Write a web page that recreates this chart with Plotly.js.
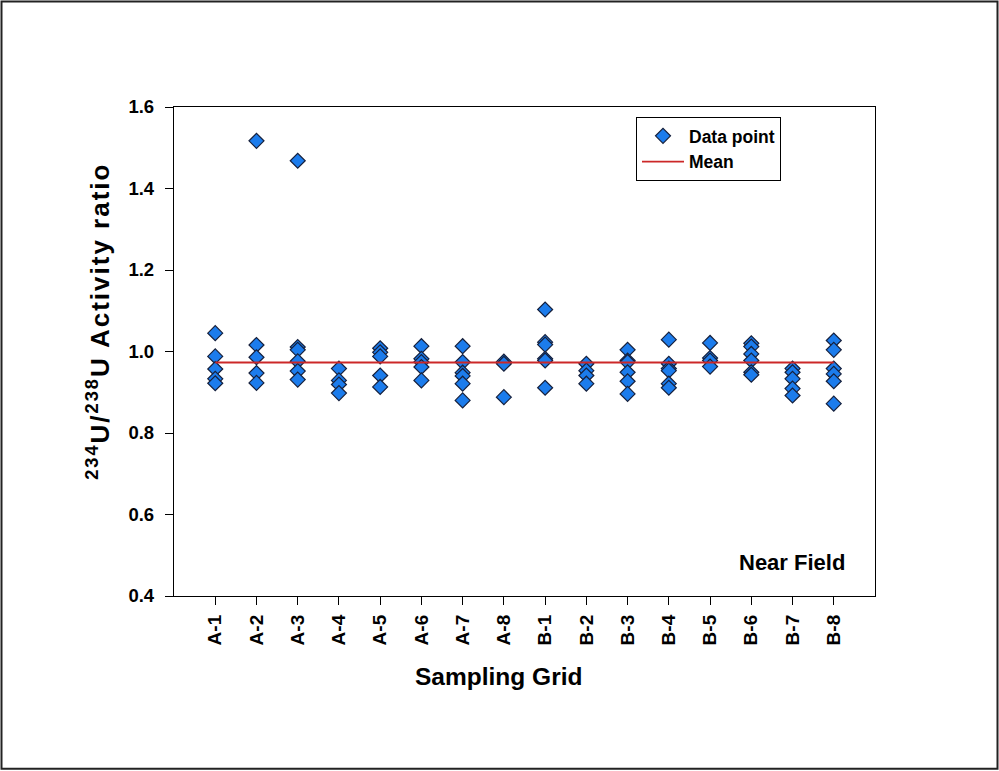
<!DOCTYPE html>
<html>
<head>
<meta charset="utf-8">
<script src="https://cdn.plot.ly/plotly-3.0.1.min.js"></script>
<style>
html,body{margin:0;padding:0;background:#fff;}
#chart{width:999px;height:771px;}
</style>
</head>
<body>
<div id="chart"></div>
<script>
const categories = ["A-1","A-2","A-3","A-4","A-5","A-6","A-7","A-8","B-1","B-2","B-3","B-4","B-5","B-6","B-7","B-8"];
const A1 = [1.045, 0.988, 0.957, 0.933, 0.922];
const A2 = [1.517, 1.016, 0.986, 0.947, 0.923];
const A3 = [1.468, 1.011, 1.004, 0.976, 0.952, 0.931];
const A4 = [0.958, 0.929, 0.919, 0.898];
const A5 = [1.008, 0.998, 0.988, 0.941, 0.913];
const A6 = [1.013, 0.982, 0.974, 0.962, 0.929];
const A7 = [1.013, 0.974, 0.948, 0.940, 0.921, 0.880];
const A8 = [0.975, 0.970, 0.888];
const B1 = [1.103, 1.023, 1.017, 0.982, 0.978, 0.911];
const B2 = [0.970, 0.953, 0.941, 0.921];
const B3 = [1.004, 0.978, 0.974, 0.949, 0.927, 0.896];
const B4 = [1.029, 0.970, 0.958, 0.953, 0.921, 0.911];
const B5 = [1.021, 0.984, 0.978, 0.963];
const B6 = [1.020, 1.012, 0.994, 0.978, 0.949, 0.943];
const B7 = [0.958, 0.949, 0.933, 0.909, 0.892];
const B8 = [1.027, 1.004, 0.958, 0.945, 0.927, 0.872];
const groups = [A1,A2,A3,A4,A5,A6,A7,A8,B1,B2,B3,B4,B5,B6,B7,B8];
const meanValue = 0.973;
const yTicks = [0.4, 0.6, 0.8, 1.0, 1.2, 1.4, 1.6];

const xs = [], ys = [];
groups.forEach((g, i) => g.forEach(v => { xs.push(categories[i]); ys.push(v); }));

const F = 'Liberation Sans, Arial, sans-serif';
const traces = [
  {
    type: 'scatter', mode: 'markers', name: 'Data point',
    x: xs, y: ys,
    marker: {symbol: 'diamond', size: 11.5, color: 'rgb(28,124,236)', line: {color: 'rgb(22,32,60)', width: 1.2}}
  },
  {
    type: 'scatter', mode: 'lines', name: 'Mean',
    x: [categories[0], categories[categories.length-1]],
    y: [meanValue, meanValue],
    line: {color: 'rgb(204,40,40)', width: 1.8}
  }
];

const L = 174, R = 875, T = 107, B = 596.5;
const px = p => (p - L) / (R - L);
const py = p => (B - p) / (B - T);

const layout = {
  width: 999, height: 771,
  margin: {l: L, r: 999 - R, t: T, b: 771 - B},
  paper_bgcolor: '#fff', plot_bgcolor: '#fff',
  font: {family: F, color: '#000'},
  showlegend: true,
  legend: {
    x: px(636), y: py(117), xanchor: 'left', yanchor: 'top',
    bordercolor: '#000', borderwidth: 1, bgcolor: '#fff',
    font: {family: F, size: 17.5, weight: 'bold', color: '#000'},
    tracegroupgap: 0, itemwidth: 42
  },
  xaxis: {
    type: 'category', categoryorder: 'array', categoryarray: categories,
    range: [-1, 16],
    showline: true, mirror: true, linecolor: '#000', linewidth: 1.2,
    ticks: 'outside', ticklen: 8, tickcolor: '#000', ticklabelstandoff: 2,
    tickangle: -90, showgrid: false, zeroline: false,
    tickfont: {family: F, size: 19, weight: 'bold'}
  },
  yaxis: {
    range: [0.4, 1.6], tickvals: yTicks, ticktext: yTicks.map(v => v.toFixed(1)),
    showline: true, mirror: true, linecolor: '#000', linewidth: 1.2,
    ticks: 'outside', ticklen: 8, tickcolor: '#000', ticklabelstandoff: 7,
    showgrid: false, zeroline: false,
    tickfont: {family: F, size: 18.5, weight: 'bold'}
  },
  annotations: [
    {
      xref: 'paper', yref: 'paper', x: px(846.5), y: py(563), xanchor: 'right', yanchor: 'middle',
      text: 'Near Field', showarrow: false,
      font: {family: F, size: 22, weight: 'bold', color: '#000'}
    },
    {
      xref: 'paper', yref: 'paper', x: px(498.5), y: py(677), xanchor: 'center', yanchor: 'middle',
      text: 'Sampling Grid', showarrow: false,
      font: {family: F, size: 24.5, weight: 'bold', color: '#000'}
    },
    {
      xref: 'paper', yref: 'paper', x: px(99), y: py(322), xanchor: 'center', yanchor: 'middle',
      text: '<sup>234</sup>U/<sup>238</sup>U Activity ratio', showarrow: false, textangle: -90,
      font: {family: F, size: 26, weight: 'bold', color: '#000'}
    }
  ],
  shapes: [{
    type: 'rect', xref: 'paper', yref: 'paper', layer: 'above',
    x0: px(1.5), x1: px(997.5), y0: py(769.5), y1: py(1.5),
    line: {color: '#222', width: 2}, fillcolor: 'rgba(0,0,0,0)'
  }]
};

Plotly.newPlot('chart', traces, layout, {displayModeBar: false, staticPlot: true}).then(gd => {
  gd.querySelectorAll('.annotation-text').forEach(t => {
    if (t.textContent.indexOf('Activity') >= 0) t.style.letterSpacing = '2px';
  });
});
</script>
</body>
</html>
